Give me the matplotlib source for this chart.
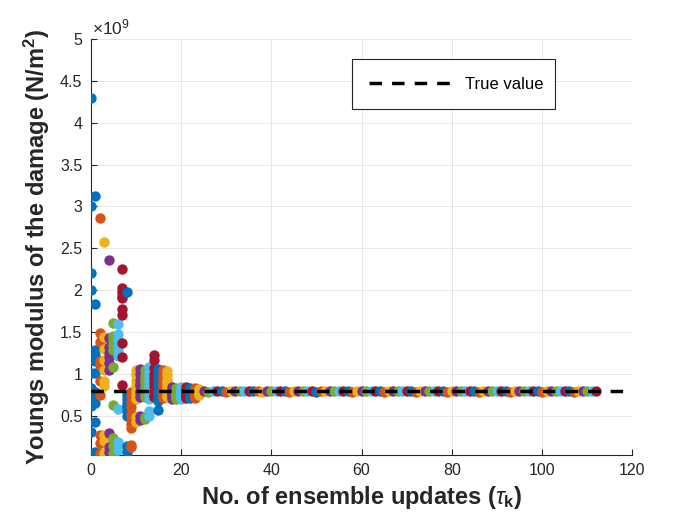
import matplotlib
matplotlib.use("Agg")
import matplotlib.pyplot as plt

plt.rcParams['font.family'] = ['Liberation Sans', 'DejaVu Sans']
plt.rcParams['mathtext.fontset'] = 'custom'
plt.rcParams['mathtext.rm'] = 'Liberation Sans'
plt.rcParams['mathtext.it'] = 'Liberation Sans:italic'
plt.rcParams['mathtext.bf'] = 'Liberation Sans:bold'

# Ensemble values of Young's modulus (units of 1e9 N/m^2) per update index k
early = {
    0: [4.29, 3.0, 2.2, 2.0, 1.2, 1.01, 0.83, 0.7, 0.62, 0.31],
    1: [3.12, 1.84, 1.29, 1.22, 1.01, 0.78, 0.65, 0.43, 0.07, 1.15],
    2: [2.86, 1.49, 1.38, 1.15, 0.92, 0.75, 0.27, 0.17, 0.06, 1.1],
    3: [2.57, 1.44, 1.3, 1.17, 0.91, 0.86, 0.27, 0.2, 0.06, 1.05],
    4: [2.36, 1.43, 1.32, 1.25, 1.13, 1.05, 0.29, 0.12, 0.07, 1.2],
    5: [1.61, 1.45, 1.41, 1.29, 1.08, 0.63, 0.23, 0.14, 0.06, 1.35],
    6: [1.60, 1.47, 1.40, 1.33, 1.28, 1.21, 0.58, 0.19, 0.14, 0.09],
    7: [2.25, 2.03, 1.98, 1.93, 1.77, 1.70, 1.37, 1.20, 0.87, 1.9],
    8: [1.98, 0.75, 0.70, 0.65, 0.60, 0.55, 0.50, 0.14, 0.07, 0.62],
    9: [0.78, 0.72, 0.66, 0.60, 0.52, 0.45, 0.40, 0.35, 0.15, 0.12],
    10: [1.05, 0.98, 0.92, 0.80, 0.75, 0.70, 0.49, 0.43, 0.85, 1.0],
    11: [1.06, 1.0, 0.93, 0.85, 0.77, 0.72, 0.50, 0.45, 0.88, 0.80],
    12: [1.04, 0.97, 0.89, 0.83, 0.76, 0.72, 0.49, 0.46, 0.93, 0.80],
    13: [1.08, 1.02, 0.93, 0.86, 0.81, 0.76, 0.55, 0.50, 0.98, 0.70],
    14: [1.22, 1.16, 1.07, 1.0, 0.95, 0.9, 0.85, 0.80, 0.75, 0.72],
    15: [1.06, 1.0, 0.95, 0.9, 0.85, 0.8, 0.76, 0.72, 0.68, 0.57],
    16: [1.04, 0.99, 0.94, 0.88, 0.84, 0.8, 0.77, 0.74, 0.71, 0.9],
    17: [1.03, 0.98, 0.93, 0.88, 0.84, 0.8, 0.77, 0.74, 0.72, 0.9],
    18: [0.84, 0.81, 0.79, 0.77, 0.75, 0.73, 0.72, 0.70, 0.78, 0.80],
    19: [0.83, 0.80, 0.78, 0.76, 0.74, 0.73, 0.71, 0.70, 0.79, 0.77],
    20: [0.84, 0.81, 0.79, 0.77, 0.75, 0.73, 0.71, 0.70, 0.80, 0.78],
    21: [0.84, 0.81, 0.79, 0.77, 0.75, 0.73, 0.72, 0.71, 0.80, 0.78],
    22: [0.83, 0.80, 0.78, 0.76, 0.74, 0.73, 0.72, 0.71, 0.79, 0.77],
    23: [0.83, 0.80, 0.78, 0.76, 0.74, 0.73, 0.72, 0.71, 0.79, 0.77],
    24: [0.82, 0.80, 0.79, 0.78, 0.77, 0.76, 0.75, 0.80, 0.79, 0.78],
}
plateau_start = 25
plateau = [
    0.79, 0.785, 0.79, 0.795, 0.79, 0.785, 0.79, 0.795, 0.79, 0.79,
    0.795, 0.79, 0.79, 0.785, 0.795, 0.79, 0.79, 0.795, 0.79, 0.785,
    0.79, 0.795, 0.79, 0.79, 0.795, 0.785, 0.79, 0.79, 0.795, 0.79,
    0.79, 0.795, 0.79, 0.785, 0.79, 0.795, 0.79, 0.79, 0.795, 0.79,
    0.785, 0.79, 0.795, 0.79, 0.79, 0.795, 0.79, 0.785, 0.79, 0.795,
    0.79, 0.79, 0.795, 0.79, 0.785, 0.79, 0.795, 0.79, 0.79, 0.795,
    0.79, 0.785, 0.79, 0.795, 0.79, 0.79, 0.795, 0.79, 0.785, 0.79,
    0.795, 0.79, 0.79, 0.795, 0.79, 0.785, 0.79, 0.795, 0.79, 0.79,
    0.795, 0.79, 0.785, 0.79, 0.795, 0.79, 0.79, 0.79,
]
true_value = 0.8
true_x = [0, 120]
xticks = [0, 20, 40, 60, 80, 100, 120]
yticks = [0.5, 1, 1.5, 2, 2.5, 3, 3.5, 4, 4.5, 5]
ytick_labels = ['0.5', '1', '1.5', '2', '2.5', '3', '3.5', '4', '4.5', '5']

colors = ['#0072BD', '#D95319', '#EDB120', '#7E2F8E', '#77AC30', '#4DBEEE', '#A2142F']
dark = '#262626'

fig = plt.figure(figsize=(6.99, 5.25), dpi=100)
ax = fig.add_axes([0.1298, 0.1333, 0.7748, 0.7924])

def color_for(k):
    return colors[0] if k == 0 else colors[(k - 1) % 7]

for k, vals in early.items():
    ax.scatter([k] * len(vals), vals, s=56, color=color_for(k), linewidths=0, zorder=3)
for i, v in enumerate(plateau):
    k = plateau_start + i
    ax.scatter([k], [v], s=56, color=color_for(k), linewidths=0, zorder=3)

ax.plot(true_x, [true_value, true_value], color='black', linewidth=2.5,
        dashes=(3.6, 2.9), label='True value', zorder=4)

ax.set_xlim(0, 120)
ax.set_ylim(0.03, 5)
ax.set_xticks(xticks)
ax.set_xticklabels([str(t) for t in xticks])
ax.set_yticks(yticks)
ax.set_yticklabels(ytick_labels)
ax.grid(True, color='#e3e3e3', linewidth=0.6, zorder=0)
ax.set_axisbelow(True)
for sp in ['top', 'right']:
    ax.spines[sp].set_visible(False)
for sp in ['left', 'bottom']:
    ax.spines[sp].set_color(dark)
    ax.spines[sp].set_linewidth(0.8)
ax.tick_params(direction='in', length=4, width=0.8, color=dark, labelcolor=dark,
               labelsize=11.5, pad=6)

ax.text(0.003, 1.004, r'$\times\mathregular{10}^{\mathregular{9}}$', transform=ax.transAxes,
        fontsize=12.5, color=dark, ha='left', va='bottom')

ax.set_xlabel(r'No. of ensemble updates ($\tau_{\mathbf{k}}$)', fontsize=17,
              fontweight='bold', color=dark, labelpad=4)
ax.set_ylabel(r'Youngs modulus of the damage (N/m$^{\mathbf{2}}$)', fontsize=17,
              fontweight='bold', color=dark, labelpad=6)

leg = ax.legend(loc='lower left', bbox_to_anchor=(0.482, 0.831, 0.375, 0.126),
                mode='expand', fontsize=12, handlelength=5.0, handletextpad=0.75,
                borderpad=1.05, fancybox=False, framealpha=1, borderaxespad=0)
leg.get_frame().set_edgecolor(dark)
leg.get_frame().set_linewidth(0.8)

fig.savefig('out.png', dpi=100)
